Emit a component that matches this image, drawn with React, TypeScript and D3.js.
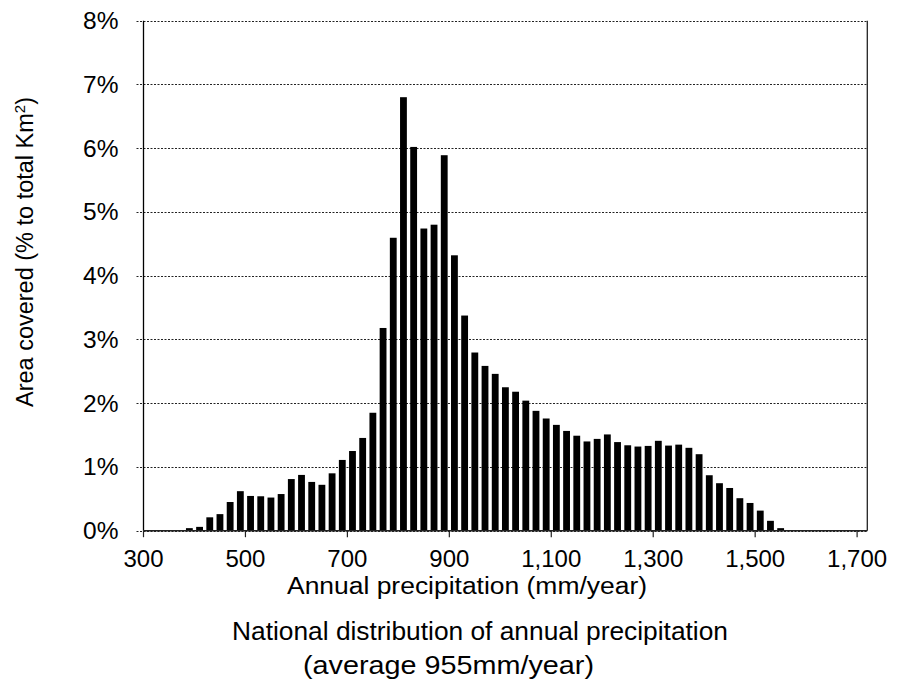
import React from "react";
import * as d3 from "d3";

const binCenters: number[] = [
  390, 410, 430, 450, 470, 490, 510, 530, 550, 570, 590, 610, 630, 650, 670, 690, 710, 730, 750,
  770, 790, 810, 830, 850, 870, 890, 910, 930, 950, 970, 990,
  1010, 1030, 1050, 1070, 1090, 1110, 1130, 1150, 1170, 1190, 1210, 1230, 1250, 1270, 1290, 1310, 1330, 1350,
  1370, 1390, 1410, 1430, 1450, 1470, 1490, 1510, 1530, 1550, 1570,
];
const areaPct: number[] = [
  0.04, 0.06, 0.21, 0.26, 0.45, 0.62, 0.545, 0.54, 0.52, 0.575, 0.81, 0.875, 0.765, 0.72, 0.9, 1.11, 1.25, 1.455, 1.85,
  3.18, 4.595, 6.8, 6.02, 4.74, 4.8, 5.89, 4.32, 3.375, 2.795, 2.585, 2.46,
  2.25, 2.18, 2.04, 1.88, 1.76, 1.66, 1.565, 1.49, 1.4, 1.44, 1.51, 1.39, 1.34, 1.32, 1.33, 1.41, 1.335, 1.35,
  1.3, 1.2, 0.87, 0.745, 0.67, 0.51, 0.435, 0.315, 0.155, 0.04, 0.01,
];
const xTicks: number[] = [300, 500, 700, 900, 1100, 1300, 1500, 1700];
const yTicks: number[] = [0, 1, 2, 3, 4, 5, 6, 7, 8];
const xTitle = "Annual precipitation (mm/year)";
const titleLine1 = "National distribution of annual precipitation";
const titleLine2 = "(average 955mm/year)";

const FONT = "'Liberation Sans', Arial, Helvetica, sans-serif";

export default function App() {
  const left = 143.5;
  const right = 867.3;
  const top = 20.7;
  const bottom = 530.7;
  const x = d3.scaleLinear().domain([300, 1720]).range([left, right]);
  const y = d3.scaleLinear().domain([0, 8]).range([bottom, top]);
  const binW = 20;
  const barW = x(300 + binW * 0.67) - x(300);
  const fmt = d3.format(",");

  return (
    <svg
      width={898}
      height={693}
      style={{ position: "absolute", left: 0, top: 0, background: "#fff" }}
      fontFamily={FONT}
    >
      {/* gridlines */}
      {yTicks.map((t) => (
        <line
          key={"g" + t}
          x1={136.5}
          x2={right}
          y1={Math.round(y(t)) + 0.5}
          y2={Math.round(y(t)) + 0.5}
          stroke="#222"
          strokeWidth={1}
          strokeDasharray="2,1.5"
        />
      ))}
      {/* bars */}
      {binCenters.map((c, i) => (
        <rect
          key={"b" + c}
          x={x(c) - barW / 2}
          y={y(areaPct[i])}
          width={barW}
          height={bottom - y(areaPct[i])}
          fill="#000"
        />
      ))}
      {/* axes frame */}
      <line x1={left} x2={left} y1={top} y2={bottom} stroke="#000" strokeWidth={1.3} />
      <line x1={right} x2={right} y1={top} y2={bottom} stroke="#222" strokeWidth={1.3} />
      <line x1={left} x2={right} y1={bottom} y2={bottom} stroke="#222" strokeWidth={1.5} />
      {/* x ticks */}
      {xTicks.map((t) => (
        <g key={"x" + t}>
          <line x1={x(t)} x2={x(t)} y1={bottom} y2={bottom + 6.5} stroke="#222" strokeWidth={1.2} />
          <text x={x(t)} y={566.5} textAnchor="middle" fontSize={24} fill="#000">
            {fmt(t)}
          </text>
        </g>
      ))}
      {/* y tick labels */}
      {yTicks.map((t) => (
        <text key={"y" + t} x={118.5} y={y(t) + 8.5} textAnchor="end" fontSize={24.5} fill="#000">
          {t + "%"}
        </text>
      ))}
      {/* axis titles */}
      <text
        x={467}
        y={594}
        textAnchor="middle"
        fontSize={23}
        fill="#000"
        textLength={360}
        lengthAdjust="spacingAndGlyphs"
      >
        {xTitle}
      </text>
      <text
        transform={`translate(33,252) rotate(-90)`}
        textAnchor="middle"
        fontSize={23.5}
        fill="#000"
      >
        Area covered (% to total Km
        <tspan dy={-8} fontSize={15}>2</tspan>
        <tspan dy={8}>)</tspan>
      </text>
      {/* chart title */}
      <text
        x={480}
        y={640}
        textAnchor="middle"
        fontSize={26}
        fill="#000"
        textLength={496}
        lengthAdjust="spacingAndGlyphs"
      >
        {titleLine1}
      </text>
      <text
        x={448.5}
        y={674}
        textAnchor="middle"
        fontSize={26}
        fill="#000"
        textLength={291}
        lengthAdjust="spacingAndGlyphs"
      >
        {titleLine2}
      </text>
    </svg>
  );
}
